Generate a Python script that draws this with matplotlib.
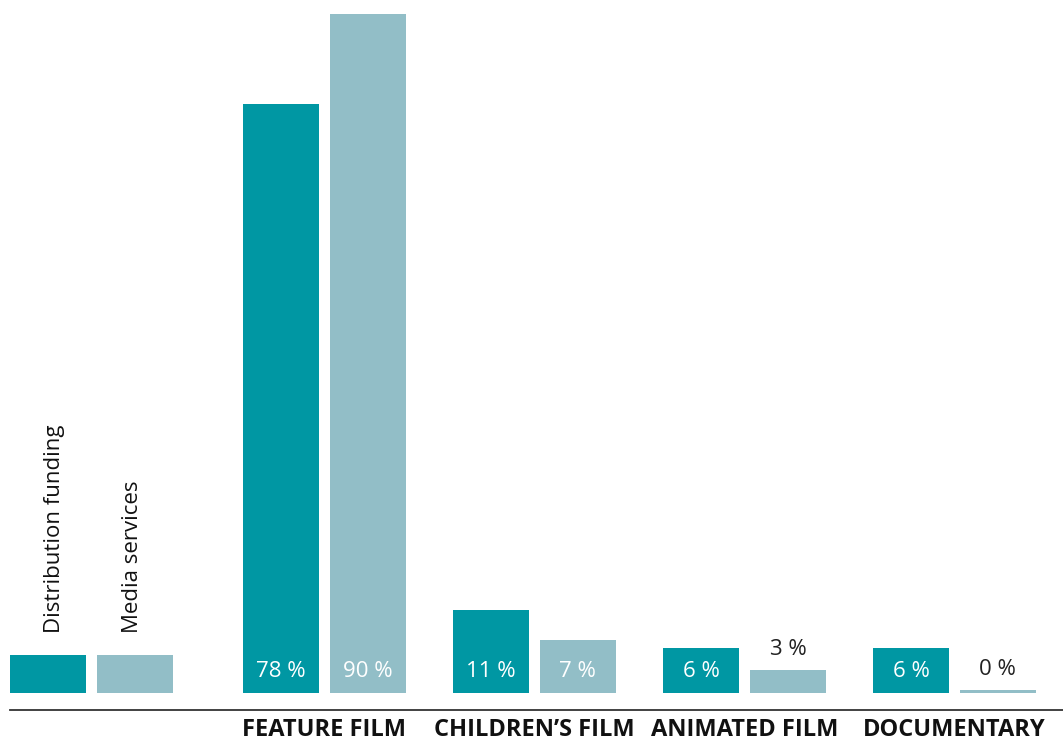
import matplotlib.pyplot as plt
import numpy as np

# Daten
categories = ["FEATURE FILM", "CHILDREN\u2019S FILM", "ANIMATED FILM", "DOCUMENTARY"]
distribution = [78, 11, 6, 6]
media = [90, 7, 3, 0]
series_names = ["Distribution funding", "Media services"]

teal = "#0097a3"
light = "#92bec7"

plt.rcParams['font.family'] = ['Open Sans', 'DejaVu Sans']

fig = plt.figure(figsize=(10.63, 7.40), dpi=100)
ax = fig.add_axes([0, 0, 1, 1])
ax.set_xlim(-1.545, 3.517)
ax.set_ylim(-6.23, 91.8)
ax.axis('off')

x = np.arange(len(categories))
w = 0.362
off = 0.207

# 0 % soll noch als duenner Strich sichtbar sein
media_drawn = [max(v, 0.4) for v in media]

ax.bar(x - off, distribution, width=w, color=teal)
ax.bar(x + off, media_drawn, width=w, color=light)

for i in range(len(categories)):
    ax.text(x[i] - off, 2.9, f"{distribution[i]} %", ha='center', va='center',
            color='white', fontsize=16)
    if media[i] >= 5:
        ax.text(x[i] + off, 2.9, f"{media[i]} %", ha='center', va='center',
                color='white', fontsize=16)
    else:
        ax.text(x[i] + off, media_drawn[i] + 2.7, f"{media[i]} %", ha='center',
                va='center', color='#222222', fontsize=16)
    ax.text(x[i], -4.9, categories[i], ha='center', va='center',
            fontsize=17, fontweight='bold', color='#111111')

# Legende als Farbfelder mit senkrechter Schrift
leg_x = -1.11
ax.bar([leg_x - off, leg_x + off], [5, 5], width=w, color=[teal, light])
ax.text(leg_x - off + 0.03, 8, series_names[0], rotation=90, ha='center',
        va='bottom', fontsize=16, color='#111111')
ax.text(leg_x + off - 0.01, 8, series_names[1], rotation=90, ha='center',
        va='bottom', fontsize=16, color='#111111')

ax.axhline(-2.2, xmin=10 / 1063, xmax=1, color='#333333', lw=1.3)

plt.savefig('out.png', dpi=100)
